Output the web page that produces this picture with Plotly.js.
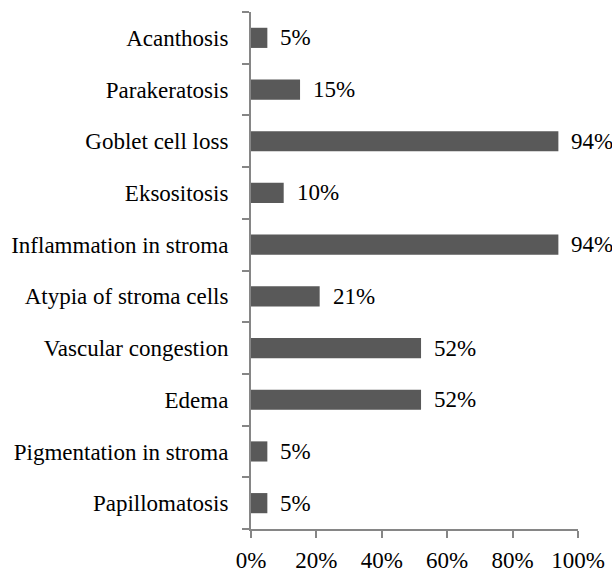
<!DOCTYPE html>
<html><head><meta charset="utf-8">
<script src="https://cdn.plot.ly/plotly-3.0.1.min.js"></script>
<style>html,body{margin:0;padding:0;background:#fff}</style>
</head><body>
<div id="chart" style="width:612px;height:578px"></div>
<script>
const categories = ["Papillomatosis","Pigmentation in stroma","Edema","Vascular congestion","Atypia of stroma cells","Inflammation in stroma","Eksositosis","Goblet cell loss","Parakeratosis","Acanthosis"];
const values = [5,5,52,52,21,94,10,94,15,5];
const xTicks = [0,20,40,60,80,100];
const xTickLabels = ["0%","20%","40%","60%","80%","100%"];

const font = {family:"Liberation Serif", size:23, color:"#000"};
const trace = {
  type:"bar", orientation:"h", y:categories, x:values,
  marker:{color:"#595959", line:{color:"#595959", width:0}},
  hoverinfo:"none"
};
const annotations = categories.map((c,i)=>({
  x:values[i], y:c, xref:"x", yref:"y", text:values[i]+"%",
  showarrow:false, xanchor:"left", yanchor:"middle", xshift:11,
  font:font
}));
const layout = {
  width:612, height:578,
  margin:{l:251, r:34, t:12, b:49},
  paper_bgcolor:"#fff", plot_bgcolor:"#fff",
  font:font, showlegend:false, bargap:0.61,
  xaxis:{range:[0,100], tickvals:xTicks, ticktext:xTickLabels, showgrid:false, zeroline:false,
    showline:true, linecolor:"#868686", linewidth:2, ticks:"outside", ticklen:7, tickwidth:2, tickcolor:"#868686",
    ticklabelstandoff:2, tickfont:font, fixedrange:true},
  yaxis:{type:"category", categoryorder:"array", categoryarray:categories, showgrid:false, zeroline:false,
    showline:true, linecolor:"#868686", linewidth:2, ticks:"outside", ticklen:7, tickwidth:2, tickcolor:"#868686",
    tickson:"boundaries", ticklabelstandoff:16, tickfont:font, fixedrange:true},
  annotations:annotations
};
Plotly.newPlot("chart",[trace],layout,{displayModeBar:false,staticPlot:true});
</script>
</body></html>
